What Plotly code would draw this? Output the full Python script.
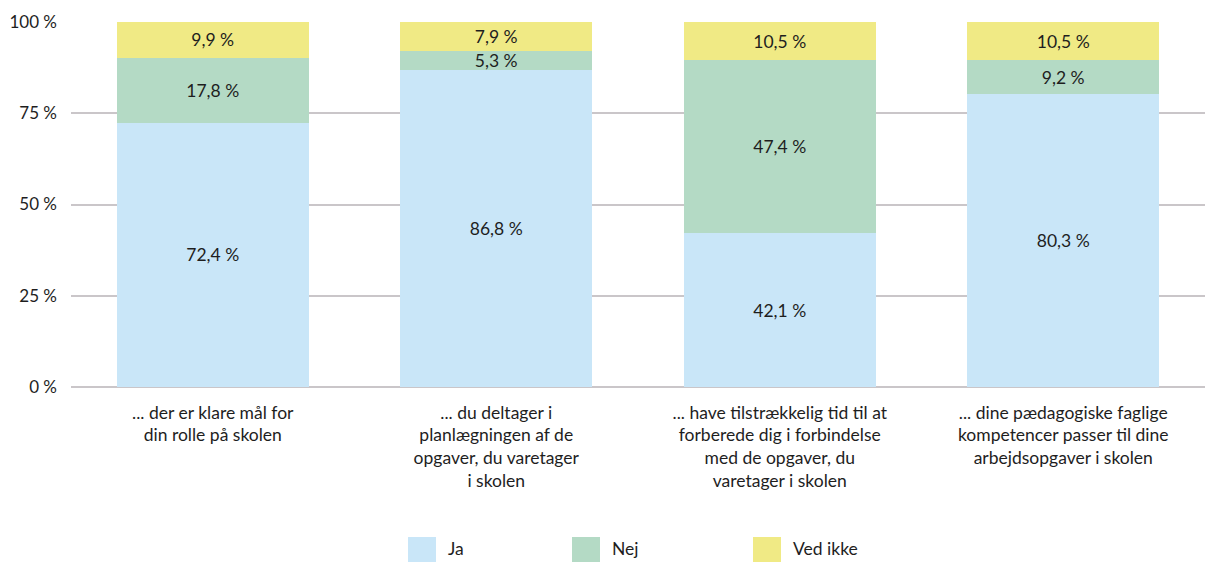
import plotly.graph_objects as go

categories = [
    "... der er klare mål for<br>din rolle på skolen",
    "... du deltager i<br>planlægningen af de<br>opgaver, du varetager<br>i skolen",
    "... have tilstrækkelig tid til at<br>forberede dig i forbindelse<br>med de opgaver, du<br>varetager i skolen",
    "... dine pædagogiske faglige<br>kompetencer passer til dine<br>arbejdsopgaver i skolen",
]
series_names = ["Ja", "Nej", "Ved ikke"]
ja = [72.4, 86.8, 42.1, 80.3]
nej = [17.8, 5.3, 47.4, 9.2]
ved_ikke = [9.9, 7.9, 10.5, 10.5]
y_tick_vals = [0, 25, 50, 75, 100]
y_tick_text = ["0 %", "25 %", "50 %", "75 %", "100 %"]

colors = ["#C9E6F8", "#B4DAC5", "#F0EA85"]
FONT = "Lato"
TXT = "#1e1e1e"
FS = 17.5
PW = 1134  # plot width in px

def fmt(v):
    return f"{v:.1f}".replace(".", ",") + " %"

fig = go.Figure()
for name, vals, col in zip(series_names, [ja, nej, ved_ikke], colors):
    fig.add_trace(go.Bar(
        x=categories, y=vals, name=name, marker=dict(color=col, line=dict(width=0)),
        text=[fmt(v) for v in vals], textposition="inside", insidetextanchor="middle",
        textfont=dict(family=FONT, size=FS, color=TXT), constraintext="none",
        hoverinfo="skip", showlegend=False,
    ))

# legend drawn as swatches + labels below the plot
legend_x = [0.2972, 0.4418, 0.6014]
for name, col, lx in zip(series_names, colors, legend_x):
    fig.add_shape(type="rect", xref="paper", yref="paper",
                  x0=lx, x1=lx + 28 / PW, y0=-0.411, y1=-0.49,
                  fillcolor=col, line=dict(width=0))
    fig.add_annotation(xref="paper", yref="paper", x=lx + 38 / PW, y=-0.442,
                       text=name, showarrow=False, xanchor="left", yanchor="middle",
                       font=dict(family=FONT, size=FS, color=TXT))

fig.update_layout(
    barmode="stack", bargap=0.324,
    width=1205, height=562,
    margin=dict(l=71, r=0, t=22, b=175),
    paper_bgcolor="white", plot_bgcolor="white",
    font=dict(family=FONT, size=FS, color=TXT),
    uniformtext=dict(minsize=10, mode="show"),
)
fig.update_yaxes(range=[0, 100], tickvals=y_tick_vals, ticktext=y_tick_text,
                 showgrid=True, gridcolor="#CAC6C9", gridwidth=1.5,
                 zeroline=True, zerolinecolor="#CAC6C9", zerolinewidth=1.5,
                 ticklabelstandoff=13, tickfont=dict(family=FONT, size=17, color=TXT),
                 fixedrange=True)
fig.update_xaxes(showgrid=False, showline=False, tickfont=dict(family=FONT, size=FS, color=TXT),
                 ticklabelstandoff=13, fixedrange=True)

fig.write_html(
    "out.html",
    config={"displayModeBar": False},
    post_script="document.body.style.margin='0';document.body.style.overflow='hidden';",
)
